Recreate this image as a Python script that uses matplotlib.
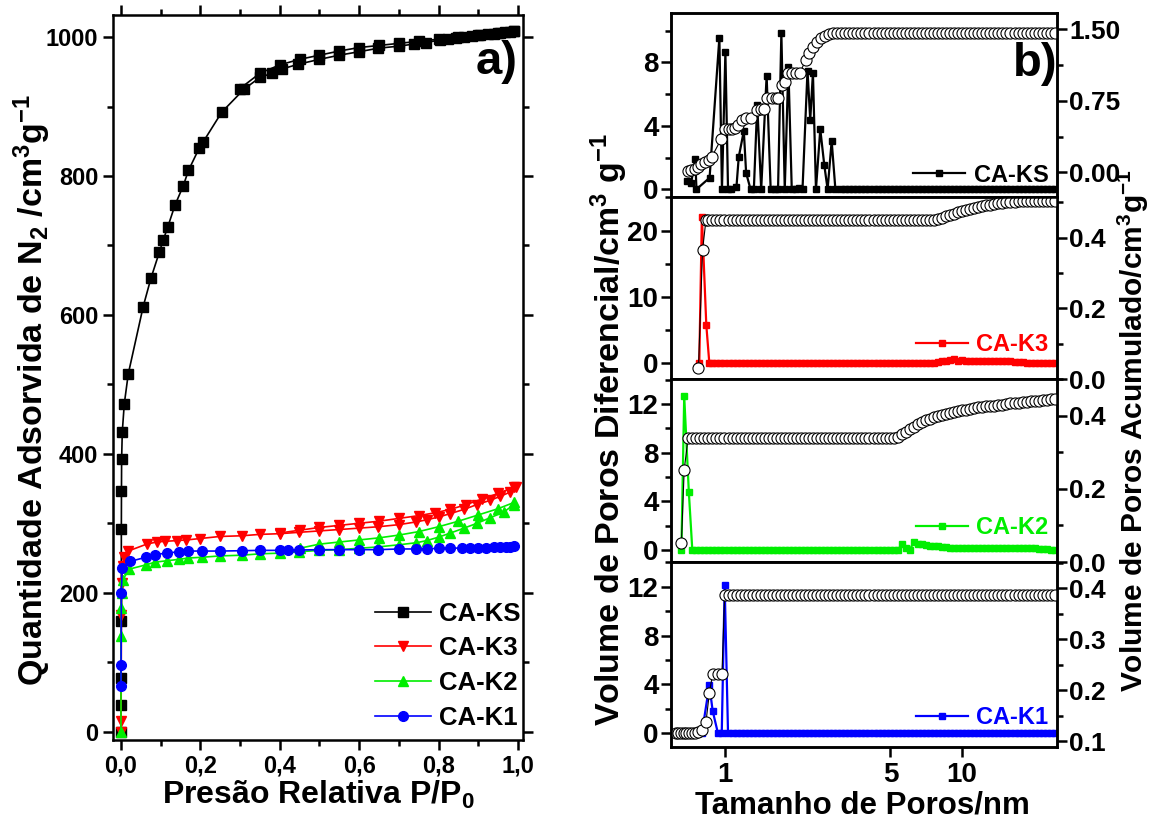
import matplotlib
matplotlib.use('Agg')
import matplotlib.pyplot as plt
from matplotlib.ticker import MultipleLocator, FixedLocator, FuncFormatter, FormatStrFormatter, NullLocator

plt.rcParams['font.family'] = ['Liberation Sans', 'DejaVu Sans']
plt.rcParams['font.weight'] = 'bold'
plt.rcParams['mathtext.fontset'] = 'custom'
plt.rcParams['mathtext.rm'] = 'Liberation Sans:bold'
plt.rcParams['mathtext.bf'] = 'Liberation Sans:bold'
plt.rcParams['mathtext.it'] = 'Liberation Sans:bold'
plt.rcParams['axes.linewidth'] = 1.8

# ---------------- a) isotermas N2 ----------------
ks_p_ads = [0.0, 0.0002, 0.0005, 0.0008, 0.001, 0.0013, 0.0017, 0.0034, 0.0084, 0.0184,
            0.056, 0.0756, 0.0965, 0.1066, 0.1176, 0.136, 0.157, 0.170, 0.197, 0.207,
            0.254, 0.310, 0.350, 0.381, 0.405, 0.447, 0.500, 0.550, 0.600, 0.648,
            0.700, 0.738, 0.768, 0.803, 0.825, 0.845, 0.865, 0.885, 0.905, 0.925,
            0.940, 0.955, 0.968, 0.980, 0.990]
ks_v_ads = [0, 38, 77, 159, 292, 346, 393, 432, 472, 515,
            612, 653, 690, 708, 726, 758, 786, 808, 840, 849,
            892, 925, 942, 948, 954, 961, 968, 974, 979, 984,
            987, 990, 992, 996, 998, 999, 1000, 1001, 1003, 1004,
            1005, 1006, 1007, 1008, 1009]
ks_p_des = [0.990, 0.950, 0.900, 0.850, 0.800, 0.750, 0.700, 0.650, 0.600, 0.550,
            0.500, 0.450, 0.400, 0.350, 0.300]
ks_v_des = [1009, 1006, 1003, 1000, 997, 994, 991, 988, 985, 980,
            974, 968, 960, 948, 926]

k3_p_ads = [0.0, 0.0005, 0.001, 0.002, 0.004, 0.008, 0.018, 0.065, 0.090, 0.110,
            0.140, 0.165, 0.199, 0.249, 0.304, 0.350, 0.400, 0.449, 0.500, 0.550,
            0.600, 0.648, 0.700, 0.744, 0.770, 0.800, 0.830, 0.864, 0.897, 0.930,
            0.956, 0.981, 0.994]
k3_v_ads = [0, 16, 168, 214, 238, 251, 260, 270, 273, 274,
            275, 276, 278, 281, 282, 284, 285, 287, 289, 291,
            293, 295, 298, 302, 305, 309, 314, 320, 327, 333,
            339, 345, 352]
k3_p_des = [0.990, 0.950, 0.910, 0.870, 0.830, 0.790, 0.750, 0.700, 0.650, 0.600,
            0.550, 0.500, 0.450, 0.400]
k3_v_des = [352, 343, 335, 327, 320, 315, 311, 307, 303, 300,
            297, 294, 290, 286]

k2_p_ads = [0.0, 0.0005, 0.001, 0.002, 0.005, 0.021, 0.062, 0.0856, 0.115, 0.145,
            0.170, 0.203, 0.250, 0.304, 0.350, 0.400, 0.449, 0.500, 0.550, 0.600,
            0.648, 0.700, 0.744, 0.770, 0.800, 0.830, 0.864, 0.897, 0.930, 0.964,
            0.990]
k2_v_ads = [0, 137, 178, 200, 219, 234, 240, 244, 246, 248,
            250, 251, 253, 254, 256, 257, 259, 261, 262, 264,
            266, 269, 272, 275, 280, 286, 293, 300, 308, 316,
            327]
k2_p_des = [0.990, 0.950, 0.900, 0.850, 0.800, 0.750, 0.700, 0.650, 0.600, 0.550,
            0.500, 0.450]
k2_v_des = [330, 321, 312, 303, 295, 288, 283, 279, 276, 273,
            270, 264]

k1_p_ads = [0.0, 0.0003, 0.001, 0.003, 0.023, 0.062, 0.0856, 0.115, 0.145, 0.170,
            0.203, 0.250, 0.304, 0.350, 0.400, 0.420, 0.449, 0.500, 0.550, 0.600,
            0.648, 0.700, 0.744, 0.770, 0.800, 0.830, 0.860, 0.880, 0.900, 0.920,
            0.940, 0.955, 0.970, 0.980, 0.990]
k1_v_ads = [65, 96, 200, 235, 245, 251, 255, 257, 259, 260,
            260, 260, 260.5, 261, 261, 262, 261.5, 262, 262, 262,
            262, 263, 263, 263, 264, 264, 264.5, 265, 265, 265,
            265.5, 266, 266, 266.5, 267]

# ---------------- b) distribuicao de poros ----------------
pore_grid = [0.620, 0.645, 0.671, 0.697, 0.725, 0.754, 0.785, 0.816, 0.849, 0.883,
             0.918, 0.955, 0.993, 1.033, 1.074, 1.117, 1.162, 1.208, 1.257, 1.307,
             1.359, 1.414, 1.470, 1.529, 1.590, 1.654, 1.720, 1.789, 1.860, 1.935,
             2.012, 2.093, 2.176, 2.263, 2.354, 2.448, 2.546, 2.648, 2.754, 2.864,
             2.978, 3.097, 3.221, 3.350, 3.484, 3.623, 3.768, 3.919, 4.076, 4.239,
             4.408, 4.585, 4.768, 4.959, 5.157, 5.364, 5.578, 5.801, 6.033, 6.275,
             6.526, 6.787, 7.058, 7.341, 7.634, 7.940, 8.257, 8.588, 8.931, 9.288,
             9.660, 10.05, 10.45, 10.87, 11.30, 11.75, 12.22, 12.71, 13.22, 13.75,
             14.30, 14.87, 15.47, 16.08, 16.73, 17.40, 18.09, 18.82, 19.57, 20.35,
             21.17, 22.01, 22.89, 23.81, 24.76]

# CA-KS
ks_diff_d = [0.688, 0.718, 0.747, 0.756, 0.859, 0.945, 0.969, 1.002, 1.028, 1.063,
             1.116, 1.141, 1.199, 1.226, 1.280, 1.322, 1.366, 1.420, 1.497, 1.557,
             1.619, 1.673, 1.728, 1.786, 1.850, 1.912, 1.989, 2.055, 2.123, 2.229,
             2.289, 2.350, 2.420, 2.524, 2.625, 2.711, 2.820, 2.924] + pore_grid[41:]
ks_diff_v = [0.55, 0.40, 1.92, 0.0, 0.72, 9.57, 0.0, 8.65, 0.0, 0.0,
             0.15, 2.03, 3.68, 1.03, 0.0, 0.0, 5.33, 0.0, 7.17, 0.0,
             0.0, 0.0, 9.86, 0.0, 7.70, 0.0, 0.0, 0.05, 0.0, 7.49,
             4.38, 7.35, 0.0, 3.79, 1.51, 0.0, 3.05, 0.0] + [0.0] * len(pore_grid[41:])
ks_cum_d = [0.695, 0.718, 0.742, 0.766, 0.792, 0.818, 0.851, 0.879, 0.960, 1.002,
            1.035, 1.069, 1.105, 1.134, 1.179, 1.226, 1.280, 1.358, 1.412, 1.458,
            1.506, 1.582, 1.636, 1.678, 1.745, 1.791, 1.850, 1.924, 1.995, 2.069,
            2.194, 2.251, 2.341, 2.444, 2.542, 2.644, 2.757] + pore_grid[39:]
ks_cum_v = [0.014, 0.024, 0.04, 0.06, 0.085, 0.11, 0.13, 0.165, 0.346, 0.45,
            0.45, 0.45, 0.46, 0.50, 0.55, 0.567, 0.567, 0.654, 0.66, 0.66,
            0.776, 0.776, 0.776, 0.776, 0.916, 0.95, 1.045, 1.045, 1.045, 1.045,
            1.18, 1.25, 1.32, 1.37, 1.405, 1.43, 1.45] + [1.46] * len(pore_grid[39:])

# CA-K3
k3_diff_d = [0.777, 0.797, 0.832, 0.857] + pore_grid[9:]
k3_diff_v = ([0.0, 22.1, 5.77, 0.0] + [0.0] * len(pore_grid[9:65]) +
             [0.25, 0.3, 0.35, 0.5, 0.6, 0.4, 0.45, 0.4, 0.35, 0.4,
              0.35, 0.4, 0.35, 0.4, 0.35, 0.35, 0.4, 0.3, 0.35, 0.25,
              0.2, 0.15, 0.1, 0.05, 0.0, 0.0, 0.0, 0.0, 0.0, 0.0])
k3_cum_d = [0.771, 0.802, 0.829] + pore_grid[8:]
k3_cum_v = ([0.031, 0.364, 0.449] + [0.449] * len(pore_grid[8:65]) +
            [0.452, 0.456, 0.460, 0.464, 0.468, 0.472, 0.476, 0.479, 0.482, 0.485,
             0.487, 0.489, 0.491, 0.493, 0.495, 0.497, 0.498, 0.500, 0.501, 0.502] +
            [0.503] * 10)

# CA-K2
k2_diff_d = [0.653, 0.671, 0.702, 0.726] + pore_grid[5:]
k2_diff_v = ([0.0, 12.63, 4.74, 0.0] + [0.0] * len(pore_grid[5:56]) +
             [0.45, 0.2, 0.0, 0.68, 0.5, 0.45, 0.4, 0.35, 0.3, 0.3,
              0.25, 0.25, 0.2, 0.2, 0.15, 0.15, 0.2, 0.15, 0.15, 0.2,
              0.2, 0.15, 0.15, 0.2, 0.2, 0.15, 0.2, 0.15, 0.2, 0.15,
              0.15, 0.2, 0.15, 0.15, 0.1, 0.1, 0.05, 0.0, 0.0])
k2_cum_d = [0.653, 0.671] + pore_grid[3:]
k2_cum_v = ([0.053, 0.253] + [0.340] * len(pore_grid[3:55]) +
            [0.342, 0.350, 0.357, 0.363, 0.370, 0.378, 0.383, 0.388, 0.392, 0.396,
             0.399, 0.402, 0.405, 0.408, 0.410, 0.413, 0.415, 0.417, 0.419, 0.421,
             0.423, 0.424, 0.426, 0.427, 0.428, 0.430, 0.431, 0.432, 0.434, 0.435,
             0.436, 0.437, 0.438, 0.440, 0.441, 0.442, 0.443, 0.444, 0.445, 0.446])

# CA-K1
k1_diff_d = [0.797, 0.857, 0.885, 0.932, 0.967, 0.995, 1.028] + pore_grid[14:]
k1_diff_v = [0.0, 3.95, 1.85, 0.0, 0.0, 12.13, 0.0] + [0.0] * len(pore_grid[14:])
k1_cum_d = [0.617, 0.634, 0.651, 0.668, 0.686, 0.705, 0.724, 0.745, 0.771, 0.797,
            0.829, 0.857, 0.885, 0.932, 0.969, 0.995] + pore_grid[13:]
k1_cum_v = ([0.116] * 8 + [0.118, 0.123, 0.137, 0.194, 0.232, 0.232, 0.232, 0.387] +
            [0.387] * len(pore_grid[13:]))

RED = '#ff0000'
GREEN = '#00ee00'
BLUE = '#0000ff'

fig = plt.figure(figsize=(11.52, 8.23), dpi=100)

# ---- painel a) ----
axa = fig.add_axes([0.0981, 0.1009, 0.356, 0.881])
iso = [
    ('CA-KS', ks_p_ads, ks_v_ads, ks_p_des, ks_v_des, 's', 'k'),
    ('CA-K3', k3_p_ads, k3_v_ads, k3_p_des, k3_v_des, 'v', RED),
    ('CA-K2', k2_p_ads, k2_v_ads, k2_p_des, k2_v_des, '^', GREEN),
    ('CA-K1', k1_p_ads, k1_v_ads, None, None, 'o', BLUE),
]
for name, p, v, pdes, vdes, mk, col in iso:
    axa.plot(p, v, marker=mk, color=col, ms=7, lw=1.2, label=name)
    if pdes is not None:
        axa.plot(pdes, vdes, marker=mk, color=col, ms=7, lw=1.2)

axa.set_xlim(-0.02, 1.013)
axa.set_ylim(-12, 1032)
axa.xaxis.set_major_locator(MultipleLocator(0.2))
axa.xaxis.set_minor_locator(MultipleLocator(0.1))
axa.yaxis.set_major_locator(MultipleLocator(200))
axa.yaxis.set_minor_locator(MultipleLocator(100))
axa.xaxis.set_major_formatter(FuncFormatter(lambda x, pos: f'{x:.1f}'.replace('.', ',')))
axa.tick_params(which='both', direction='out', width=1.8, top=True, right=True, labelsize=17)
axa.tick_params(which='major', length=7)
axa.tick_params(which='minor', length=4)

leg = axa.legend(loc='lower right', bbox_to_anchor=(1.025, -0.004), frameon=False, fontsize=18.5,
                 handlelength=2.2, handletextpad=0.3, labelspacing=0.42, borderaxespad=0.1)

fig.text(497 / 1152, 1 - 62 / 823, 'a)', fontsize=34, ha='center', va='center')
fig.text(32 / 1152, 1 - 390 / 823, 'Quantidade Adsorvida de N$_2$ /cm$^3$g$^{-1}$',
         rotation=90, fontsize=24.5, ha='center', va='center')
fig.text(318 / 1152, 1 - 795 / 823, 'Presão Relativa P/P$_0$', fontsize=23, ha='center', va='center')

# ---- painel b) ----
rows = [
    ('CA-KS', 'k', ks_diff_d, ks_diff_v, ks_cum_d, ks_cum_v,
     (-0.49, 11.12), [0, 4, 8], 2, (-0.259, 1.672), [0.0, 0.75, 1.5], 0.375, '%.2f', 0.10),
    ('CA-K3', RED, k3_diff_d, k3_diff_v, k3_cum_d, k3_cum_v,
     (-2.36, 25.05), [0, 10, 20], 5, (0.0, 0.515), [0.0, 0.2, 0.4], 0.1, '%.1f', 0.17),
    ('CA-K2', GREEN, k2_diff_d, k2_diff_v, k2_cum_d, k2_cum_v,
     (-0.99, 14.05), [0, 4, 8, 12], 2, (0.0, 0.501), [0.0, 0.2, 0.4], 0.1, '%.1f', 0.17),
    ('CA-K1', BLUE, k1_diff_d, k1_diff_v, k1_cum_d, k1_cum_v,
     (-1.12, 14.03), [0, 4, 8, 12], 2, (0.089, 0.451), [0.1, 0.2, 0.3, 0.4], 0.05, '%.1f', 0.14),
]
edges = [13, 197, 379, 562, 747]
x0, x1 = 671 / 1152, 1057 / 1152
for i, (name, col, dd, dv, cd, cv, ylim, yt, ymin, ylim2, yt2, ymin2, fmt2, legy) in enumerate(rows):
    top, bot = edges[i], edges[i + 1]
    ax = fig.add_axes([x0, 1 - bot / 823, x1 - x0, (bot - top) / 823])
    ln, = ax.plot(dd, dv, '-s', color=col, ms=4, lw=1.6, label=name)
    ax.set_xscale('log')
    ax.set_xlim(0.59, 25.3)
    ax.set_ylim(*ylim)
    ax.yaxis.set_major_locator(FixedLocator(yt))
    ax.yaxis.set_minor_locator(MultipleLocator(ymin))
    ax.xaxis.set_major_locator(FixedLocator([1, 5, 10]))
    ax.xaxis.set_minor_locator(NullLocator())
    ax.xaxis.set_major_formatter(FuncFormatter(lambda x, pos: f'{x:g}'))
    ax.tick_params(which='both', direction='out', width=1.8, right=False, labelsize=20,
                   labelbottom=(i == 3))
    ax.tick_params(axis='y', pad=2)
    ax.tick_params(which='major', length=7)
    ax.tick_params(which='minor', length=4)

    ax2 = ax.twinx()
    ax2.plot(cd, cv, '-o', color='k', mfc='white', mec='k', ms=8, mew=0.8, lw=0.8)
    ax2.set_ylim(*ylim2)
    ax2.yaxis.set_major_locator(FixedLocator(yt2))
    ax2.yaxis.set_minor_locator(MultipleLocator(ymin2))
    ax2.yaxis.set_major_formatter(FormatStrFormatter(fmt2))
    ax2.xaxis.set_minor_locator(NullLocator())
    ax2.tick_params(which='both', direction='out', width=1.8, labelsize=19, pad=2)
    ax2.tick_params(which='major', length=7)
    ax2.tick_params(which='minor', length=4)

    lg = ax2.legend(handles=[ln], loc='lower right', bbox_to_anchor=(0.99, legy - 0.07),
                    frameon=False, fontsize=17, handlelength=2.2, handletextpad=0.35,
                    borderaxespad=0, borderpad=0.2)
    for t in lg.get_texts():
        t.set_color(col)

fig.text(1035 / 1152, 1 - 64 / 823, 'b)', fontsize=34, ha='center', va='center')
fig.text(609 / 1152, 1 - 430 / 823, 'Volume de Poros Diferencial/cm$^3$ g$^{-1}$',
         rotation=90, fontsize=24.5, ha='center', va='center')
fig.text(1133 / 1152, 1 - 430 / 823, 'Volume de Poros Acumulado/cm$^3$g$^{-1}$',
         rotation=90, fontsize=21.5, ha='center', va='center')
fig.text(862 / 1152, 1 - 806 / 823, 'Tamanho de Poros/nm', fontsize=22.5, ha='center', va='center')

fig.savefig('out.png', dpi=100)
